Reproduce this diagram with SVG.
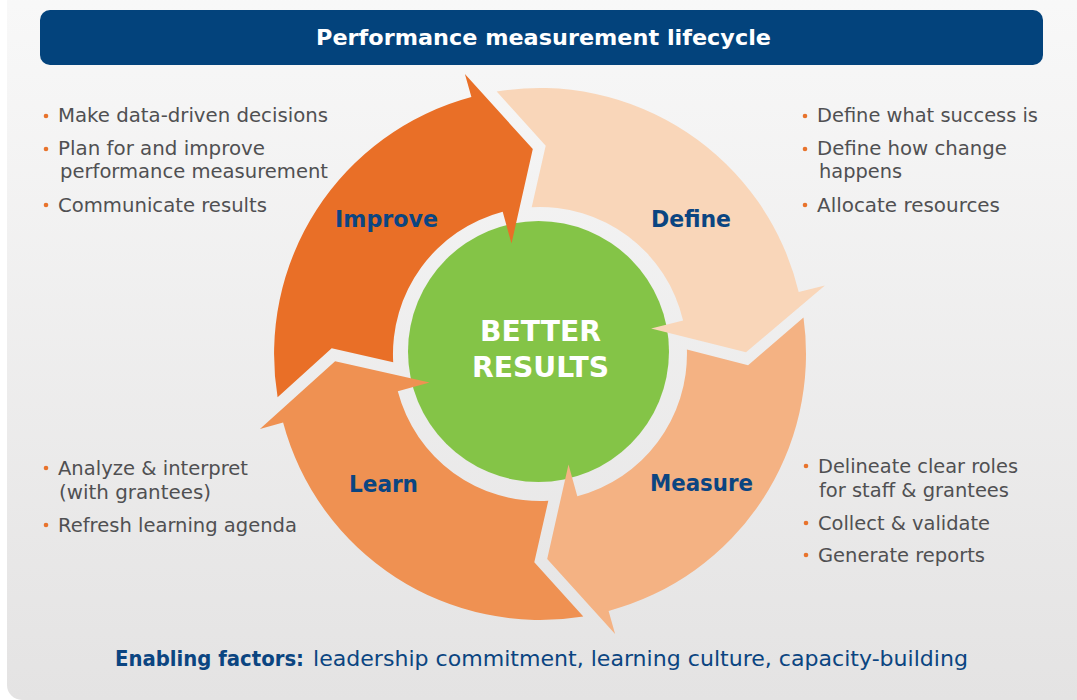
<svg xmlns="http://www.w3.org/2000/svg" width="1077" height="700" viewBox="0 0 1077 700">
  <defs>
    <linearGradient id="bgGrad" x1="0" y1="0" x2="0" y2="1">
      <stop offset="0" stop-color="#f9f9f9"/>
      <stop offset="1" stop-color="#e4e3e3"/>
    </linearGradient>
  </defs>
  <style>
    .title { font-family: "DejaVu Sans", "Liberation Sans", sans-serif; font-weight: bold; font-size: 22px; fill: #ffffff; }
    .label { font-family: "DejaVu Sans", "Liberation Sans", sans-serif; font-weight: bold; font-size: 23px; fill: #0b4581; }
    .center { font-family: "DejaVu Sans", "Liberation Sans", sans-serif; font-weight: bold; font-size: 29px; fill: #ffffff; }
    .item { font-family: "DejaVu Sans", "Liberation Sans", sans-serif; font-size: 19.5px; fill: #505052; }
    .dot { fill: #e8732c; }
    .foot-b { font-family: "DejaVu Sans", "Liberation Sans", sans-serif; font-weight: bold; font-size: 21px; fill: #0b4581; }
    .foot { font-family: "DejaVu Sans", "Liberation Sans", sans-serif; font-size: 21px; fill: #0b4581; }
    .a-improve { fill: #e96f27; }
    .a-define { fill: #f9d6b9; }
    .a-measure { fill: #f4b283; }
    .a-learn { fill: #ef9152; }
  </style>

  <rect x="0" y="0" width="1077" height="700" fill="#ffffff"/>
  <rect x="7" y="-30" width="1100" height="730" rx="15" ry="15" fill="url(#bgGrad)"/>

  <g id="header">
    <rect x="40" y="10" width="1003" height="55" rx="10" ry="10" fill="#03437c"/>
    <text class="title" x="543.5" y="45" text-anchor="middle" textLength="455" lengthAdjust="spacingAndGlyphs">Performance measurement lifecycle</text>
  </g>

  <g id="node-center">
    <circle cx="538.5" cy="351.5" r="130.5" fill="#84c447"/>
  </g>

  <g id="node-improve">
    <path class="a-improve" d="M 277.6,397.3 A 266 266 0 0 1 471.4,97.1 L 464.9,73.9 L 532.8,149.1 L 511.5,243.6 L 502.7,211.8 A 147 147 0 0 0 393.2,362.3 L 331.7,348.3 Z"/>
    <text class="label" x="386.5" y="227" text-anchor="middle" textLength="103" lengthAdjust="spacingAndGlyphs">Improve</text>
  </g>
  <g id="node-define">
    <path class="a-define" d="M 496.7,91.6 A 266 266 0 0 1 798.7,292.0 L 824.9,285.6 L 746,352.2 L 651.1,328.4 L 683.1,320.5 A 147 147 0 0 0 531.7,207.2 L 545.7,145.7 Z"/>
    <text class="label" x="691" y="227" text-anchor="middle" textLength="80" lengthAdjust="spacingAndGlyphs">Define</text>
  </g>
  <g id="node-measure">
    <path class="a-measure" d="M 803.5,317.5 A 266 266 0 0 1 608.6,610.9 L 615.1,634.1 L 547.2,558.9 L 568.5,464.4 L 577.3,496.2 A 147 147 0 0 0 686.9,349.5 L 748.1,365.2 Z"/>
    <text class="label" x="701.5" y="491" text-anchor="middle" textLength="103" lengthAdjust="spacingAndGlyphs">Measure</text>
  </g>
  <g id="node-learn">
    <path class="a-learn" d="M 583.3,616.4 A 266 266 0 0 1 283.1,422.6 L 259.9,429.1 L 335.1,361.2 L 429.6,382.5 L 397.8,391.3 A 147 147 0 0 0 548.3,500.8 L 534.3,562.3 Z"/>
    <text class="label" x="383.5" y="492" text-anchor="middle" textLength="69" lengthAdjust="spacingAndGlyphs">Learn</text>
  </g>

  <g id="center-text">
    <text class="center" x="540.5" y="341" text-anchor="middle" textLength="121" lengthAdjust="spacingAndGlyphs">BETTER</text>
    <text class="center" x="540.5" y="377" text-anchor="middle" textLength="137" lengthAdjust="spacingAndGlyphs">RESULTS</text>
  </g>

  <g id="improve-items">
    <circle class="dot" cx="46" cy="116" r="2.3"/>
    <text class="item" x="58" y="122" textLength="270" lengthAdjust="spacingAndGlyphs">Make data-driven decisions</text>
    <circle class="dot" cx="46" cy="149" r="2.3"/>
    <text class="item" x="58" y="155" textLength="207" lengthAdjust="spacingAndGlyphs">Plan for and improve</text>
    <text class="item" x="60" y="178" textLength="268" lengthAdjust="spacingAndGlyphs">performance measurement</text>
    <circle class="dot" cx="46" cy="205" r="2.3"/>
    <text class="item" x="58" y="212" textLength="209" lengthAdjust="spacingAndGlyphs">Communicate results</text>
  </g>

  <g id="define-items">
    <circle class="dot" cx="805" cy="116" r="2.3"/>
    <text class="item" x="817" y="122" textLength="221" lengthAdjust="spacingAndGlyphs">Define what success is</text>
    <circle class="dot" cx="805" cy="149" r="2.3"/>
    <text class="item" x="817" y="155" textLength="190" lengthAdjust="spacingAndGlyphs">Define how change</text>
    <text class="item" x="819" y="178" textLength="83" lengthAdjust="spacingAndGlyphs">happens</text>
    <circle class="dot" cx="805" cy="205" r="2.3"/>
    <text class="item" x="817" y="212" textLength="183" lengthAdjust="spacingAndGlyphs">Allocate resources</text>
  </g>

  <g id="learn-items">
    <circle class="dot" cx="46" cy="468" r="2.3"/>
    <text class="item" x="58" y="475" textLength="190" lengthAdjust="spacingAndGlyphs">Analyze &amp; interpret</text>
    <text class="item" x="59" y="499" textLength="152" lengthAdjust="spacingAndGlyphs">(with grantees)</text>
    <circle class="dot" cx="46" cy="525" r="2.3"/>
    <text class="item" x="58" y="532" textLength="239" lengthAdjust="spacingAndGlyphs">Refresh learning agenda</text>
  </g>

  <g id="measure-items">
    <circle class="dot" cx="806" cy="466" r="2.3"/>
    <text class="item" x="818" y="473" textLength="200" lengthAdjust="spacingAndGlyphs">Delineate clear roles</text>
    <text class="item" x="819" y="497" textLength="190" lengthAdjust="spacingAndGlyphs">for staff &amp; grantees</text>
    <circle class="dot" cx="806" cy="523" r="2.3"/>
    <text class="item" x="818" y="530" textLength="172" lengthAdjust="spacingAndGlyphs">Collect &amp; validate</text>
    <circle class="dot" cx="806" cy="555" r="2.3"/>
    <text class="item" x="818" y="562" textLength="167" lengthAdjust="spacingAndGlyphs">Generate reports</text>
  </g>

  <g id="footer">
    <text class="foot-b" x="115" y="666" textLength="189" lengthAdjust="spacingAndGlyphs">Enabling factors:</text>
    <text class="foot" x="313" y="666" textLength="655" lengthAdjust="spacingAndGlyphs">leadership commitment, learning culture, capacity-building</text>
  </g>
</svg>
